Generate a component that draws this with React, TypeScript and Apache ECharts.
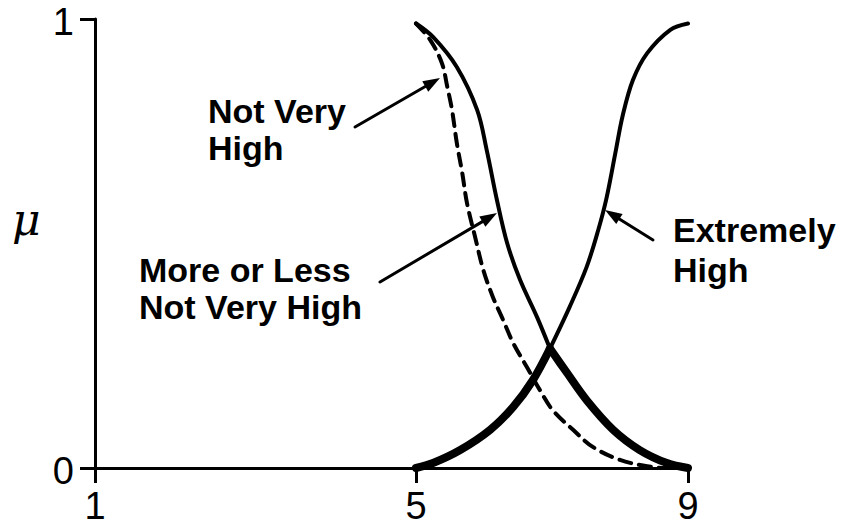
import React, { useEffect, useRef } from "react";
import * as echarts from "echarts";

// x-axis: the drawn axis starts at the left edge (labelled "1"); curves live on 5..9
const X_AXIS_START = 5 - 321 / 68;
const X_AXIS_END = 9;
const X_TICK_VALUES = [X_AXIS_START, 5, 9];
const X_TICK_LABELS = ["1", "5", "9"];
const Y_TICK_VALUES = [0, 1];
const Y_TICK_LABELS = ["0", "1"];

// "Not Very High" (solid curve, falling)
const NVH_X = [5.0, 5.25, 5.6, 5.9, 6.04, 6.19, 6.34, 6.53, 6.78, 6.97, 7.22, 7.51, 7.9, 8.29, 8.69, 9.0];
const NVH_MU = [0.99, 0.96, 0.893, 0.797, 0.708, 0.597, 0.501, 0.419, 0.336, 0.266, 0.212, 0.151, 0.085, 0.04, 0.011, 0];
const NVH_SPLIT = 9; // index of the crossing with "Extremely High"

// "Extremely High" (solid curve, rising)
const EH_X = [5.0, 5.25, 5.65, 6.09, 6.43, 6.72, 6.97, 7.26, 7.51, 7.68, 7.8, 7.93, 8.04, 8.19, 8.4, 8.74, 9.0];
const EH_MU = [0, 0.011, 0.04, 0.085, 0.136, 0.196, 0.266, 0.359, 0.448, 0.53, 0.6, 0.7, 0.785, 0.864, 0.924, 0.976, 0.99];
const EH_SPLIT = 6;

// dashed curve
const DASH_X = [5.0, 5.21, 5.38, 5.46, 5.53, 5.6, 5.68, 5.75, 5.87, 5.99, 6.13, 6.28, 6.43, 6.63, 6.82, 7.01, 7.31, 7.6, 8.0, 8.4, 8.69, 9.0];
const DASH_MU = [0.99, 0.953, 0.902, 0.849, 0.797, 0.724, 0.657, 0.59, 0.514, 0.441, 0.381, 0.33, 0.278, 0.225, 0.174, 0.129, 0.085, 0.047, 0.018, 0.004, 0, 0];

const LABEL_NVH = "Not Very\nHigh";
const LABEL_MLNVH = "More or Less\nNot Very High";
const LABEL_EH = "Extremely\nHigh";
const Y_NAME = "μ";

const INK = "#000";
const FONT = "'Liberation Sans', Arial, sans-serif";

function pairs(xs: number[], ys: number[]) {
  return xs.map((x, i) => [x, ys[i]]);
}

function lookup(values: number[], labels: string[], v: number) {
  for (let i = 0; i < values.length; i++) {
    if (Math.abs(values[i] - v) < 1e-6) return labels[i];
  }
  return "";
}

function arrow(x1: number, y1: number, x2: number, y2: number) {
  const dx = x2 - x1;
  const dy = y2 - y1;
  const len = Math.sqrt(dx * dx + dy * dy);
  const ux = dx / len;
  const uy = dy / len;
  const hl = 17;
  const hw = 6;
  const bx = x2 - ux * hl;
  const by = y2 - uy * hl;
  return [
    {
      type: "line",
      shape: { x1, y1, x2: bx + ux * 2, y2: by + uy * 2 },
      style: { stroke: INK, lineWidth: 3, lineCap: "round" },
    },
    {
      type: "polygon",
      shape: {
        points: [
          [x2, y2],
          [bx - uy * hw, by + ux * hw],
          [bx + uy * hw, by - ux * hw],
        ],
      },
      style: { fill: INK },
    },
  ];
}

function label(text: string, x: number, y: number, lineHeight: number) {
  return {
    type: "text",
    x,
    y,
    style: {
      text,
      font: `bold 34px ${FONT}`,
      lineHeight,
      fill: INK,
      align: "left",
      verticalAlign: "middle",
    },
  };
}

export default function App() {
  const ref = useRef<HTMLDivElement>(null);

  useEffect(() => {
    document.body.style.margin = "0";
    if (!ref.current) return;
    const chart = echarts.init(ref.current, null, { renderer: "svg" });

    const thin = 4;
    const thick = 8;
    const lineBase = (data: number[][], width: number, type: any = "solid") => ({
      type: "line",
      data,
      showSymbol: false,
      smooth: 0.35,
      silent: true,
      lineStyle: { color: INK, width, type, cap: "round", join: "round" },
    });

    const nvh = pairs(NVH_X, NVH_MU);
    const eh = pairs(EH_X, EH_MU);
    const dash = pairs(DASH_X, DASH_MU);

    chart.setOption({
      animation: false,
      backgroundColor: "#fff",
      grid: { left: 95, right: 170, top: 19, bottom: 59, containLabel: false },
      xAxis: {
        type: "value",
        min: X_AXIS_START,
        max: X_AXIS_END,
        axisLine: { show: true, onZero: false, lineStyle: { color: INK, width: 3 } },
        axisTick: { show: true, length: 15, customValues: X_TICK_VALUES, lineStyle: { color: INK, width: 3 } },
        axisLabel: {
          customValues: X_TICK_VALUES,
          formatter: (v: number) => lookup(X_TICK_VALUES, X_TICK_LABELS, v),
          fontFamily: FONT,
          fontSize: 38,
          lineHeight: 30,
          color: INK,
          margin: 23,
        },
        splitLine: { show: false },
      },
      yAxis: {
        type: "value",
        min: 0,
        max: 1,
        axisLine: { show: true, onZero: false, lineStyle: { color: INK, width: 3 } },
        axisTick: { show: true, length: 15, customValues: Y_TICK_VALUES, lineStyle: { color: INK, width: 3 } },
        axisLabel: {
          customValues: Y_TICK_VALUES,
          formatter: (v: number) => lookup(Y_TICK_VALUES, Y_TICK_LABELS, v),
          fontFamily: FONT,
          fontSize: 38,
          lineHeight: 6,
          verticalAlign: "top",
          color: INK,
          margin: 21,
        },
        splitLine: { show: false },
      },
      series: [
        lineBase(nvh.slice(0, NVH_SPLIT + 1), thin),
        lineBase(nvh.slice(NVH_SPLIT), thick),
        lineBase(eh.slice(0, EH_SPLIT + 1), thick),
        lineBase(eh.slice(EH_SPLIT), thin),
        lineBase(dash, 4, [12, 8]),
      ],
      graphic: [
        label(LABEL_NVH, 208, 129, 37),
        label(LABEL_MLNVH, 139, 288, 37),
        label(LABEL_EH, 673, 250, 40),
        {
          type: "text",
          x: 12,
          y: 219,
          style: {
            text: Y_NAME,
            font: `italic 44px 'DejaVu Serif', serif`,
            fill: INK,
            align: "left",
            verticalAlign: "middle",
          },
        },
        ...arrow(355, 127, 440, 78),
        ...arrow(380, 282, 497, 213),
        ...arrow(653, 240, 605, 210),
      ],
    });

    return () => chart.dispose();
  }, []);

  return (
    <div
      ref={ref}
      style={{ position: "fixed", left: 0, top: 0, width: 858, height: 527, background: "#fff" }}
    />
  );
}
